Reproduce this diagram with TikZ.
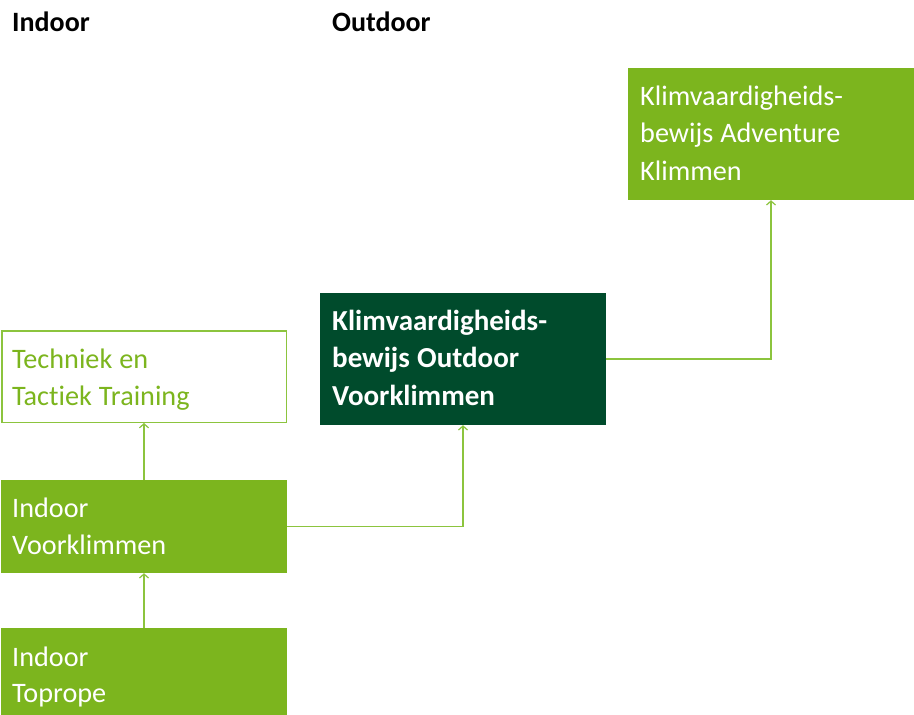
\documentclass[tikz,border=0pt]{standalone}
\usepackage{fontspec}
\setmainfont{Carlito}[Ligatures={NoCommon}]
\usetikzlibrary{arrows.meta}
\definecolor{lgreen}{RGB}{124,181,30}
\definecolor{dgreen}{RGB}{0,75,44}
\definecolor{lline}{RGB}{140,196,62}
\newcommand{\tightsp}{\spaceskip=0.25em\relax\xspaceskip=0.25em\relax}
\tikzset{
  x=1pt, y=-1pt,
  fbox/.style={fill=lgreen, draw=none, minimum width=286pt, inner sep=0pt},
  dbox/.style={fill=dgreen, draw=none, minimum width=286pt, inner sep=0pt},
  obox/.style={draw=lline, line width=1.5pt, fill=white, minimum width=284.5pt, inner sep=0pt},
  txt/.style={anchor=base west, inner sep=0pt, align=left, text width=270pt,
    font=\fontsize{28.2}{37.5}\selectfont, execute at begin node=\tightsp},
  btxt/.style={txt, font=\fontsize{29}{37.5}\selectfont\bfseries},
  ttl/.style={anchor=base west, inner sep=0pt, font=\fontsize{28}{33}\selectfont\bfseries},
  arr/.style={draw=lline, line width=1.5pt, -{Straight Barb[length=4pt,width=9pt,line width=1.2pt]}}
}
\begin{document}
\begin{tikzpicture}
\useasboundingbox[fill=white] (0,0) rectangle (914,715);
% titles
\node[ttl] (tin) at (12,31) {Indoor};
\node[ttl] (tout) at (332,31) {Outdoor};
% boxes
\node[fbox, minimum height=132pt] (adv) at (771,134) {};
\node[txt, text=white] (advt) at (640,105) {Klimvaardigheids-\\bewijs Adventure\\Klimmen};
\node[dbox, minimum height=132pt] (dark) at (463,359) {};
\node[btxt, text=white] (darkt) at (332,330) {Klimvaardigheids-\\bewijs Outdoor\\Voorklimmen};
\node[obox, minimum height=91.5pt] (tech) at (144,376.5) {};
\node[txt, text=lgreen] (techt) at (12,368) {Techniek en\\Tactiek Training};
\node[fbox, minimum height=93pt] (voor) at (144,526.5) {};
\node[txt, text=white] (voort) at (12,517) {Indoor\\Voorklimmen};
\node[fbox, minimum height=93pt] (top) at (144,674.5) {};
\node[txt, text=white, font=\fontsize{28.2}{36}\selectfont] (topt) at (12,666) {Indoor\\Toprope};
% connectors
\draw[arr] (top.north) -- (voor.south);
\draw[arr] (voor.north) -- (tech.south);
\draw[arr] (voor.east) -| (dark.south);
\draw[arr] (dark.east) -| (adv.south);
\end{tikzpicture}
\end{document}
